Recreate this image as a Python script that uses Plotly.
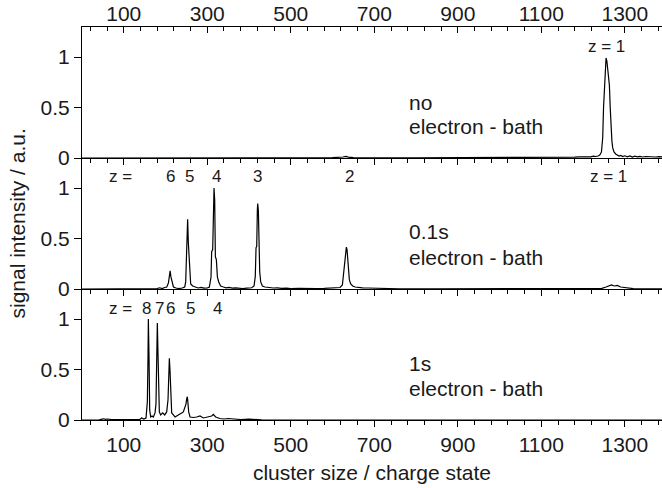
import plotly.graph_objects as go

# ---------------- data ----------------
# panel 1: no electron bath  (cluster size / charge state, signal)
top_spectrum = [
    (0, 0), (100, 0), (200, 0), (300, 0), (400, 0), (500, 0), (600, 0.003),
    (625, 0.01), (632, 0.015), (638, 0.008), (650, 0.003), (800, 0.002),
    (1000, 0.003), (1100, 0.004), (1150, 0.006), (1170, 0.01), (1180, 0.008),
    (1190, 0.012), (1200, 0.01), (1210, 0.015), (1218, 0.012), (1225, 0.018),
    (1230, 0.015), (1236, 0.02), (1240, 0.03), (1244, 0.06), (1247, 0.2),
    (1249, 0.5), (1251, 0.72), (1253, 0.86), (1255, 0.99), (1257, 0.96),
    (1259, 0.88), (1261, 0.86), (1263, 0.72), (1265, 0.5), (1267, 0.3),
    (1269, 0.17), (1271, 0.1), (1274, 0.06), (1278, 0.04), (1282, 0.03),
    (1286, 0.02), (1290, 0.025), (1295, 0.015), (1300, 0.022), (1306, 0.012),
    (1312, 0.02), (1318, 0.01), (1324, 0.018), (1330, 0.012), (1336, 0.016),
    (1342, 0.01), (1350, 0.015), (1358, 0.012), (1366, 0.016), (1374, 0.01),
    (1382, 0.014), (1389, 0.012),
]

# panel 2: 0.1 s electron bath
mid_spectrum = [
    (0, 0), (100, 0), (170, 0), (180, 0.005), (186, 0.012), (192, 0.004),
    (198, 0.015), (203, 0.02), (207, 0.06), (209, 0.12), (211, 0.18),
    (213, 0.12), (215.5, 0.07), (219, 0.02), (225, 0.01), (232, 0.004),
    (240, 0.01), (246, 0.02), (248.3, 0.07), (250, 0.36), (251.5, 0.42),
    (253, 0.69), (254.7, 0.455), (256.3, 0.32), (258, 0.1), (260.3, 0.05),
    (265, 0.03), (271, 0.02), (278, 0.01), (285, 0.015), (292, 0.008),
    (300, 0.01), (305, 0.02), (309, 0.12), (310.5, 0.37), (313, 0.39),
    (314.6, 0.65), (316.2, 1.0), (317.8, 0.88), (319.4, 0.32), (321.8, 0.29),
    (324.2, 0.12), (327.4, 0.07), (332, 0.03), (338.6, 0.02), (345, 0.012),
    (352, 0.015), (360, 0.008), (368, 0.012), (376, 0.006), (385, 0.004),
    (395, 0.008), (402, 0.01), (406.4, 0.012), (412, 0.03), (415, 0.125),
    (416.8, 0.41), (418.4, 0.42), (420, 0.79), (420.8, 0.845), (422.4, 0.77),
    (424, 0.5), (425.6, 0.17), (428, 0.07), (432, 0.03), (438, 0.02),
    (446, 0.015), (452, 0.012), (458, 0.01), (468, 0.012), (478, 0.006),
    (490, 0.008), (500, 0.004), (520, 0.006), (540, 0.003), (560, 0.005),
    (580, 0.006), (595, 0.008), (602, 0.01), (612, 0.012), (618, 0.015),
    (623.6, 0.04), (627.5, 0.19), (629.9, 0.32), (631.5, 0.4), (633.1, 0.415),
    (634.7, 0.39), (636.3, 0.3), (637.9, 0.19), (640.3, 0.09), (643.5, 0.05),
    (648.3, 0.03), (654, 0.02), (662, 0.015), (672, 0.012), (685, 0.01),
    (700, 0.008), (720, 0.003), (760, 0.002), (850, 0.001), (1000, 0.001),
    (1150, 0.002), (1220, 0.003), (1245, 0.006), (1255, 0.02), (1262, 0.035),
    (1268, 0.04), (1275, 0.03), (1282, 0.035), (1290, 0.02), (1300, 0.015),
    (1312, 0.01), (1320, 0.004), (1340, 0.002), (1389, 0.001),
]

# panel 3: 1 s electron bath
bot_spectrum = [
    (0, 0), (40, 0), (48, 0.008), (52, 0.012), (56, 0.006), (62, 0.01),
    (70, 0.004), (90, 0.002), (120, 0.003), (138, 0.005), (143, 0.02),
    (148, 0.01), (151, 0.015), (153.3, 0.02), (154.9, 0.1), (156.5, 0.18),
    (158.1, 0.63), (158.9, 1.0), (160.5, 0.63), (162.1, 0.1), (164.5, 0.03),
    (167.7, 0.04), (170.9, 0.03), (174.9, 0.07), (177.2, 0.16), (178, 0.36),
    (179.6, 0.68), (180.4, 0.96), (182, 0.66), (183.6, 0.33), (185.2, 0.08),
    (188.4, 0.05), (193.2, 0.07), (198, 0.05), (202.8, 0.08), (206, 0.2),
    (207.6, 0.42), (209.2, 0.61), (210.8, 0.49), (212.4, 0.2), (214.8, 0.07),
    (218.8, 0.05), (222.8, 0.03), (226.7, 0.04), (233.1, 0.06), (238.7, 0.07),
    (242.7, 0.08), (246.7, 0.13), (249.1, 0.16), (250.7, 0.21), (252.3, 0.23),
    (253.9, 0.16), (255.5, 0.08), (258.7, 0.03), (266.7, 0.025), (274.6, 0.03),
    (282.6, 0.04), (290.6, 0.02), (302.6, 0.03), (310.6, 0.04), (314.5, 0.055),
    (320, 0.03), (330, 0.015), (340, 0.01), (350, 0.015), (360, 0.01),
    (370, 0.012), (380, 0.005), (400, 0.008), (418, 0.005), (430, 0.001),
    (600, 0), (1389, 0),
]

x_tick_values = [100, 300, 500, 700, 900, 1100, 1300]
y_tick_values = [0, 0.5, 1]
y_tick_text = ["0", "0.5", "1"]

# two-line panel labels: (first line, second line, y of line 1, y of line 2)
panel_labels = [
    ("no", "electron - bath", 0.55, 0.312),
    ("0.1s", "electron - bath", 0.572, 0.315),
    ("1s", "electron - bath", 0.559, 0.312),
]
top_z_labels = [("z = 1", 1257)]
mid_z_labels = [("z =", 91), ("6", 211), ("5", 257), ("4", 321), ("3", 421), ("2", 640), ("z = 1", 1260)]
bot_z_labels = [("z =", 91), ("8", 155), ("7", 185), ("6", 213), ("5", 261), ("4", 324)]

x_title = "cluster size / charge state"
y_title = "signal intensity / a.u."

# ---------------- figure ----------------
FONT = "Liberation Sans, Arial, sans-serif"
TXT = "#1a1a1a"

def unzip(pairs):
    return [p[0] for p in pairs], [p[1] for p in pairs]

fig = go.Figure()
for pairs, xa, ya in [(bot_spectrum, "x", "y"), (mid_spectrum, "x2", "y2"), (top_spectrum, "x3", "y3")]:
    xs, ys = unzip(pairs)
    fig.add_trace(go.Scatter(x=xs, y=ys, xaxis=xa, yaxis=ya, mode="lines",
                             line=dict(color="black", width=1.2), showlegend=False,
                             hoverinfo="skip"))
# invisible carrier for the top tick axis
xs, ys = unzip(top_spectrum)
fig.add_trace(go.Scatter(x=xs, y=ys, xaxis="x4", yaxis="y3", mode="lines",
                         line=dict(color="rgba(0,0,0,0)", width=1), showlegend=False,
                         hoverinfo="skip"))

XR = [0, 1389]
YR = [0, 1.297]
h = 131 / 393.0

common_x = dict(range=XR, showgrid=False, zeroline=False, showline=True, linecolor="black",
                linewidth=1, tickmode="array", tickvals=x_tick_values, ticks="outside",
                ticklen=6, tickcolor="black", tickwidth=1, automargin=False,
                minor=dict(dtick=40, tick0=100, ticks="outside", ticklen=4,
                           tickcolor="black", tickwidth=1, showgrid=False),
                tickfont=dict(family=FONT, size=21, color=TXT))
common_y = dict(range=YR, showgrid=False, zeroline=False, showline=True, linecolor="black",
                linewidth=1, tickmode="array", tickvals=y_tick_values, ticktext=y_tick_text,
                ticks="outside", ticklen=7, tickcolor="black", tickwidth=1, automargin=False,
                tickfont=dict(family=FONT, size=21, color=TXT))

fig.update_layout(
    width=662, height=488,
    margin=dict(l=82, r=0, t=27, b=68, autoexpand=False),
    paper_bgcolor="white", plot_bgcolor="white",
    xaxis=dict(**common_x, anchor="y", showticklabels=True,
               title=dict(text=x_title, font=dict(family=FONT, size=21, color=TXT), standoff=10)),
    xaxis2=dict(**common_x, anchor="y2", showticklabels=False),
    xaxis3=dict(**common_x, anchor="y3", showticklabels=False),
    xaxis4=dict(range=XR, overlaying="x3", side="top", anchor="y3", showgrid=False,
                zeroline=False, showline=True, linecolor="black", linewidth=1,
                tickmode="array", tickvals=x_tick_values, ticks="inside", ticklen=6,
                tickcolor="black", tickwidth=1, automargin=False, ticklabelstandoff=-3,
                minor=dict(dtick=40, tick0=100, ticks="inside", ticklen=4,
                           tickcolor="black", tickwidth=1, showgrid=False),
                tickfont=dict(family=FONT, size=21, color=TXT)),
    yaxis=dict(**common_y, domain=[0, h], anchor="x"),
    yaxis2=dict(**common_y, domain=[h, 2 * h], anchor="x2"),
    yaxis3=dict(**common_y, domain=[2 * h, 1], anchor="x3"),
)

ann = []
ann.append(dict(x=(17 - 82) / 580.0, y=0.5, xref="paper", yref="paper", text=y_title,
                textangle=-90, showarrow=False, xanchor="center", yanchor="middle",
                font=dict(family=FONT, size=21, color=TXT)))
for (l1, l2, y1, y2), yref in zip(panel_labels, ["y3", "y2", "y"]):
    for text, yv in [(l1, y1), (l2, y2)]:
        ann.append(dict(x=778, y=yv, xref="x", yref=yref, text=text, showarrow=False,
                        xanchor="left", yanchor="middle", align="left",
                        font=dict(family=FONT, size=21, color=TXT)))
for labels, yref, yv in [(top_z_labels, "y3", 1.10), (mid_z_labels, "y2", 1.11), (bot_z_labels, "y", 1.10)]:
    for text, xv in labels:
        ann.append(dict(x=xv, y=yv, xref="x", yref=yref, text=text, showarrow=False,
                        xanchor="center", yanchor="middle",
                        font=dict(family=FONT, size=17, color=TXT)))
fig.update_layout(annotations=ann)

# remove the default 8px page margin so the 662x488 figure fills the window exactly
fig.write_html("out.html",
               config={"displayModeBar": False},
               post_script="document.body.style.margin='0';document.body.style.overflow='hidden';")
